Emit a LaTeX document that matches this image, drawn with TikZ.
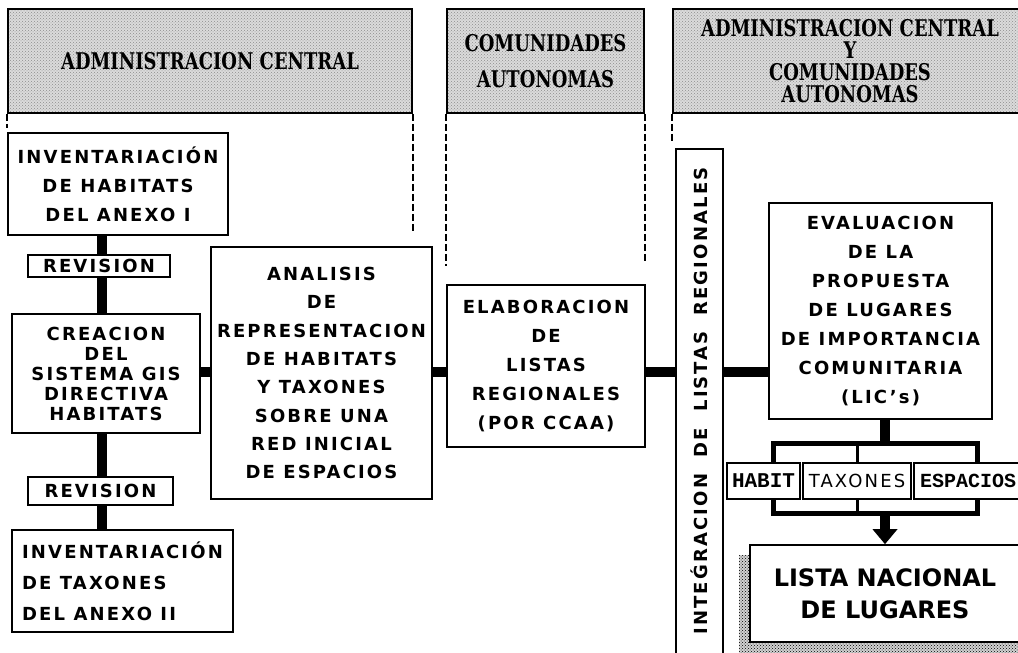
\documentclass[tikz,border=0pt]{standalone}
\usepackage{fontspec}
\usetikzlibrary{arrows.meta,patterns}

\newfontfamily\boxfont[LetterSpace=12]{DejaVu Sans}
\newfontfamily\headfont[FakeStretch=0.78]{DejaVu Serif}
\newfontfamily\typefont{Liberation Mono}
\newfontfamily\bigfont{DejaVu Sans}

\begin{document}
\begin{tikzpicture}[x=1pt, y=-1pt,
  box/.style={draw, line width=1.6pt, inner sep=0pt, align=center,
    font=\boxfont\bfseries\fontsize{18}{29}\selectfont},
  hdr/.style={draw, line width=1.6pt, inner sep=0pt, align=center,
    preaction={fill=gray!28}, pattern=crosshatch dots, pattern color=gray!90,
    font=\headfont\bfseries\fontsize{23}{36}\selectfont},
  conn/.style={line width=10pt},
  bar/.style={line width=5pt},
  thinbar/.style={line width=3pt},
  guide/.style={line width=1.6pt, dash pattern=on 7pt off 3pt},
  shadow/.style={preaction={fill=gray!35}, pattern=crosshatch dots, pattern color=black},
]

% ----- Frame -----
\useasboundingbox (0,0) rectangle (1018,653);

% ----- Headers -----
\node[hdr, minimum width=404pt, minimum height=104pt] (hdrA) at (210,61) {ADMINISTRACION CENTRAL};
\node[hdr, minimum width=197pt, minimum height=104pt] (hdrB) at (545.5,61) {COMUNIDADES\\AUTONOMAS};
\node[hdr, minimum width=354pt, minimum height=104pt,
  font=\headfont\bfseries\fontsize{23}{22}\selectfont] (hdrC) at (850,61)
  {ADMINISTRACION CENTRAL\\Y\\COMUNIDADES\\AUTONOMAS};

% ----- Guide lines -----
\draw[guide] (hdrA.south west) -- ++(0,14);
\draw[guide] (hdrA.south east) -- ++(0,119);
\draw[guide] (hdrB.south west) -- ++(0,152);
\draw[guide] (hdrB.south east) -- ++(0,149);
\draw[guide] (hdrC.south west) -- ++(0,27);

% ----- Left column -----
\node[box, minimum width=220pt, minimum height=102pt] (inv1) at (118,184)
  {INVENTARIACIÓN\\DE HABITATS\\DEL ANEXO I};
\node[box, minimum width=142pt, minimum height=22pt] (rev1) at (99,266) {REVISION};
\node[box, minimum width=188pt, minimum height=119pt,
  font=\boxfont\bfseries\fontsize{18}{20}\selectfont] (cre) at (106,373.5)
  {CREACION\\DEL\\SISTEMA GIS\\DIRECTIVA\\HABITATS};
\node[box, minimum width=145pt, minimum height=28pt] (rev2) at (100.5,491) {REVISION};
\node[box, minimum width=221pt, minimum height=102pt, align=left,
  font=\boxfont\bfseries\fontsize{18}{31}\selectfont] (inv2) at (122.5,581)
  {INVENTARIACIÓN\\DE TAXONES\\DEL ANEXO II};

% ----- Middle -----
\node[box, minimum width=221pt, minimum height=252pt,
  font=\boxfont\bfseries\fontsize{18}{28.3}\selectfont] (ana) at (321.5,373)
  {ANALISIS\\DE\\REPRESENTACION\\DE HABITATS\\Y TAXONES\\SOBRE UNA\\RED INICIAL\\DE ESPACIOS};
\node[box, minimum width=198pt, minimum height=162pt] (ela) at (546,366)
  {ELABORACION\\DE\\LISTAS\\REGIONALES\\(POR CCAA)};

% ----- Right -----
\node[draw, line width=1.6pt, inner sep=0pt, minimum width=47pt, minimum height=520pt] (int) at (699.5,409) {};
\node[rotate=90, font=\boxfont\bfseries\fontsize{18}{20}\selectfont] (intlbl) at (699.5,401)
  {INTE\'GRACION\hspace{8pt} DE\hspace{8pt} LISTAS\hspace{8pt} REGIONALES};
\node[box, minimum width=223pt, minimum height=216pt] (evl) at (880.5,311)
  {EVALUACION\\DE LA\\PROPUESTA\\DE LUGARES\\DE IMPORTANCIA\\COMUNITARIA\\(LIC’s)};

\node[box, minimum width=73pt, minimum height=36pt,
  font=\typefont\bfseries\fontsize{21}{21}\selectfont] (hab) at (763.5,481) {HABIT};
\node[box, minimum width=108pt, minimum height=36pt,
  font=\boxfont\fontsize{18}{18}\selectfont] (tax) at (857,481) {TAXONES};
\node[box, minimum width=108pt, minimum height=36pt,
  font=\typefont\bfseries\fontsize{20}{20}\selectfont] (esp) at (968,481) {ESPACIOS};

% shadow strips
\fill[shadow] (739,555) rectangle (750,653);
\fill[shadow] (739,642) rectangle (1018,653);
\node[box, fill=white, minimum width=270pt, minimum height=97pt,
  font=\bigfont\bfseries\fontsize{24}{32}\selectfont] (lst) at (885,593.5)
  {LISTA NACIONAL\\DE LUGARES};

% ----- Connectors -----
\coordinate (spine) at (102,0);
\coordinate (chain) at (0,372);
\draw[conn] (inv1.south -| spine) -- (rev1.north -| spine);
\draw[conn] (rev1.south -| spine) -- (cre.north -| spine);
\draw[conn] (cre.south -| spine) -- (rev2.north -| spine);
\draw[conn] (rev2.south -| spine) -- (inv2.north -| spine);
\draw[conn] (cre.east |- chain) -- (ana.west |- chain);
\draw[conn] (ana.east |- chain) -- (ela.west |- chain);
\draw[conn] (ela.east |- chain) -- (int.west |- chain);
\draw[conn] (int.east |- chain) -- (evl.west |- chain);

% ----- Bracket -----
\coordinate (bkl) at (773,443);
\coordinate (bkr) at (977,443);
\coordinate (bkl2) at (773,513);
\coordinate (bkr2) at (977,513);
\draw[conn] (lst.north |- evl.south) -- (lst.north |- bkl);
\draw[bar] (hab.north -| bkl) -- (bkl) -- (bkr) -- (esp.north -| bkr);
\draw[thinbar] (tax.north) -- (tax.north |- bkl);
\draw[bar] (hab.south -| bkl2) -- (bkl2) -- (bkr2) -- (esp.south -| bkr2);
\draw[thinbar] (tax.south) -- (tax.south |- bkl2);
\draw[conn, -{Triangle[width=24pt, length=15pt]}] (lst.north |- bkl2) -- (lst.north);

\end{tikzpicture}
\end{document}
